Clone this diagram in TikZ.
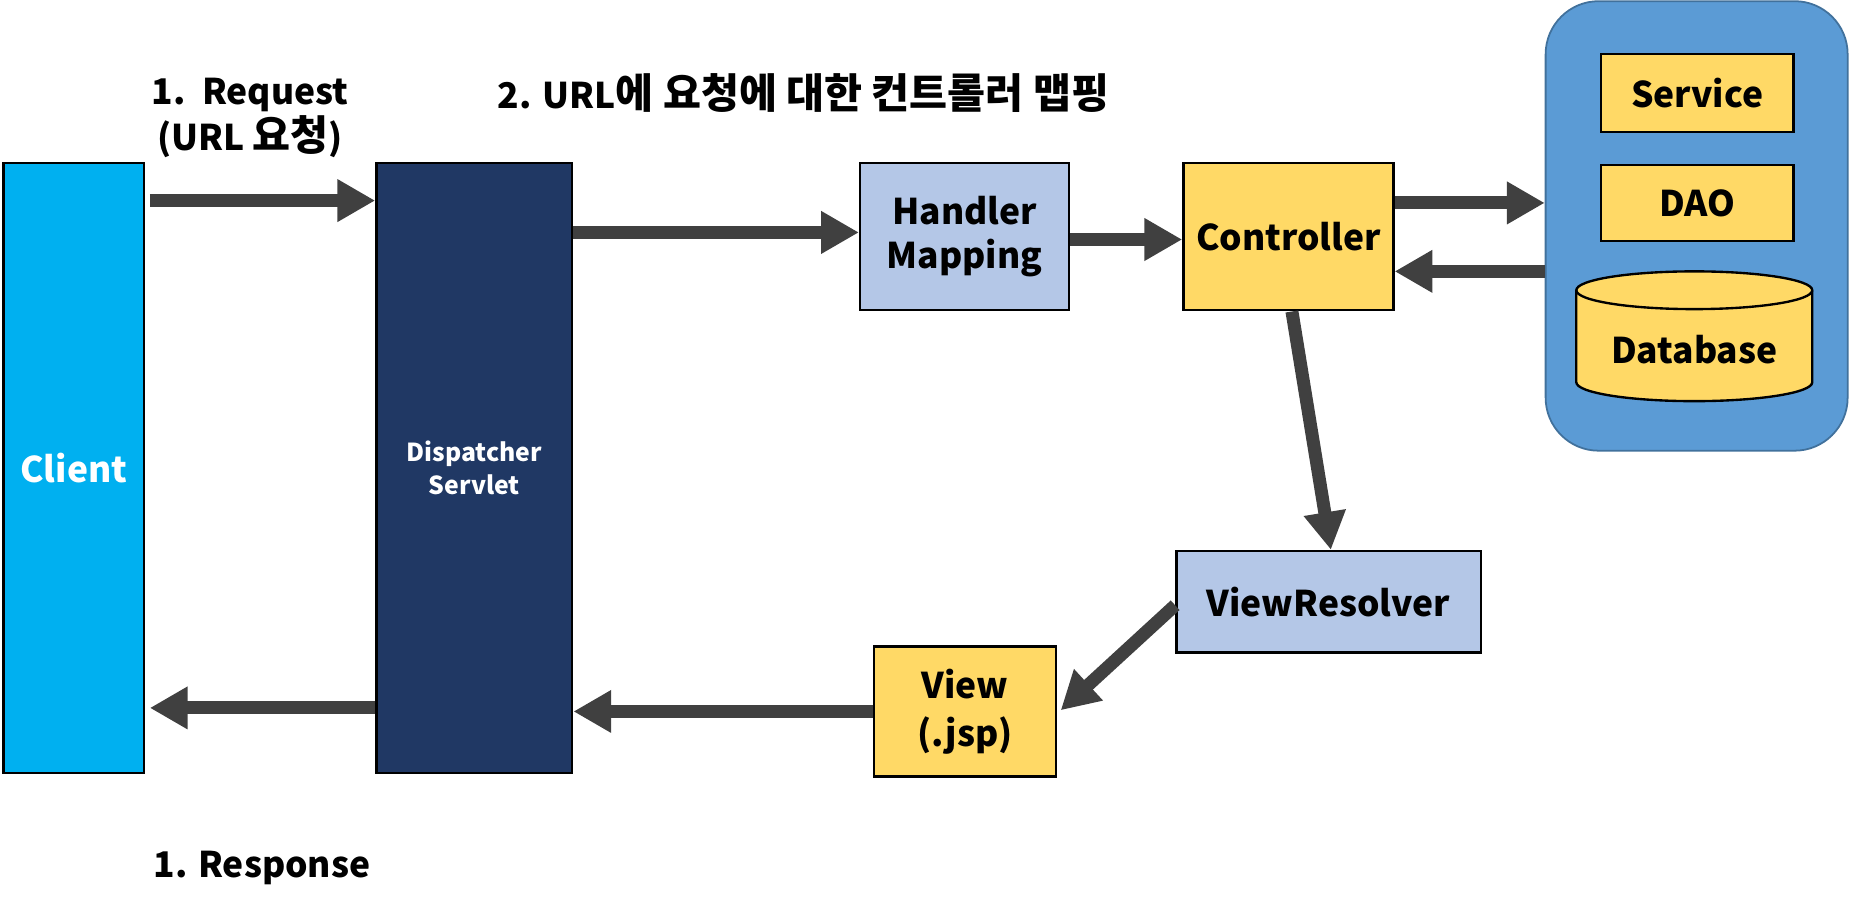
\documentclass[tikz,border=0pt]{standalone}
\usepackage{fontspec}
\setmainfont{Noto Sans CJK KR}
\usetikzlibrary{arrows.meta}
\definecolor{arrgray}{HTML}{404040}
\definecolor{clientblue}{HTML}{00B0F0}
\definecolor{navy}{HTML}{203864}
\definecolor{lightblue}{HTML}{B4C7E7}
\definecolor{yel}{HTML}{FFD966}
\definecolor{contblue}{HTML}{5B9BD5}
\definecolor{contborder}{HTML}{41719C}
\newcommand\hgl[1]{{\fontsize{35}{39}\selectfont #1}}
\tikzset{
  box/.style={draw=black, line width=2pt, inner sep=0pt, align=center, font=\fontsize{30}{38}\selectfont\bfseries},
  arr/.style={draw=arrgray, line width=11pt, -{Triangle[width=34pt,length=32pt]}},
  lbl/.style={align=center, inner sep=0pt, font=\fontsize{30}{39}\selectfont\bfseries},
}
\begin{document}
\begin{tikzpicture}[x=1pt,y=-1pt]
\useasboundingbox (0,0) rectangle (1568,770);
% container
\node[draw=contborder, line width=1.5pt, fill=contblue, rounded corners=45pt, minimum width=256pt, minimum height=381pt, inner sep=0pt] (cont) at (1438,191.5) {};
% boxes
\node[box, fill=clientblue, text=white, minimum width=119pt, minimum height=517pt] (client) at (62.5,396.5) {Client};
\node[box, fill=navy, text=white, minimum width=166pt, minimum height=517pt, font=\fontsize{21}{28}\selectfont\bfseries] (disp) at (402,396.5) {Dispatcher\\Servlet};
\node[box, fill=lightblue, minimum width=177pt, minimum height=125pt] (hm) at (817.5,200.5) {Handler\\Mapping};
\node[box, fill=yel, minimum width=178pt, minimum height=125pt] (ctrl) at (1092,200.5) {Controller};
\node[box, fill=yel, minimum width=163pt, minimum height=66pt] (svc) at (1438.5,79) {Service};
\node[box, fill=yel, minimum width=163pt, minimum height=64pt] (dao) at (1438.5,172) {DAO};
\node[box, fill=lightblue, minimum width=258pt, minimum height=86pt] (vr) at (1126,510) {ViewResolver};
\node[box, fill=yel, minimum width=154pt, minimum height=110pt, font=\fontsize{30}{41}\selectfont\bfseries] (view) at (818,603) {View\\(.jsp)};
% database cylinder
\filldraw[fill=yel, draw=black, line width=2pt]
  (1336,246) -- (1336,324) arc[start angle=180, end angle=360, x radius=100pt, y radius=16pt]
  -- (1536,246) arc[start angle=0, end angle=180, x radius=100pt, y radius=16pt] -- cycle;
\draw[black, line width=2pt] (1336,246) arc[start angle=180, end angle=360, x radius=100pt, y radius=16pt];
\node[lbl] (db) at (1436,296) {Database};
% labels
\node[lbl] (req) at (212,100) {1.\ \ Request\\(URL \hgl{요청})};
\node[lbl] (map) at (681,79) {2. URL\hgl{에 요청에 대한 컨트롤러 맵핑}};
\node[lbl] (resp) at (222,736) {1. Response};
% arrows
\draw[arr] ([xshift=4pt,yshift=226.5pt]client.east) -- ([yshift=226.5pt]disp.west);
\draw[arr] ([yshift=199.5pt]disp.east) -- ([yshift=3.5pt]hm.west);
\draw[arr] ([yshift=-2.5pt]hm.east) -- ([yshift=-2.5pt]ctrl.west);
\draw[arr] ([yshift=28.5pt]ctrl.east) -- ([yshift=28.5pt]ctrl.east -| cont.west);
\draw[arr] ([yshift=-29.5pt]ctrl.east -| cont.west) -- ([yshift=-29.5pt]ctrl.east);
\draw[arr] ([xshift=3pt]ctrl.south) -- ([xshift=2pt]vr.north);
\draw[arr] ([yshift=-3pt]vr.west) -- ([xshift=3pt,yshift=1pt]view.east);
\draw[arr] (view.west) -- (view.west -| disp.east);
\draw[arr] ([yshift=-203.5pt]disp.west) -- ([xshift=4pt,yshift=-203.5pt]client.east);
\end{tikzpicture}
\end{document}
